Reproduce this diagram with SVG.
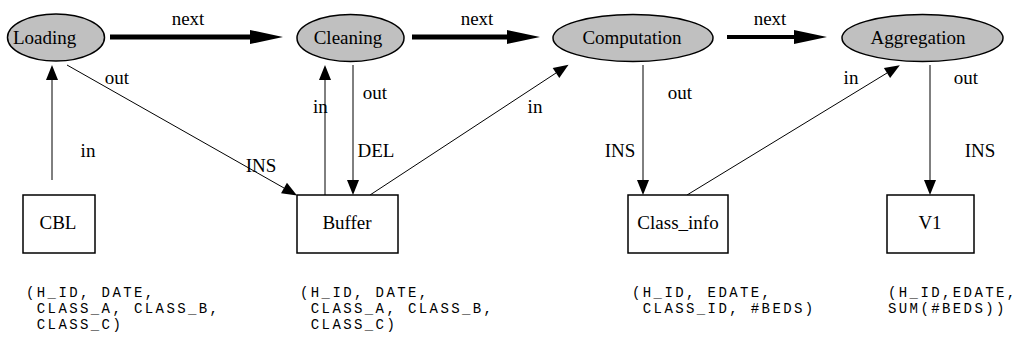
<svg xmlns="http://www.w3.org/2000/svg" width="1029" height="345" viewBox="0 0 1029 345">
<style>
.el{fill:#c0c0c0;stroke:#000;stroke-width:1.5}
.bx{fill:#fff;stroke:#000;stroke-width:1.5}
.t{font-family:"Liberation Serif","Times New Roman","DejaVu Serif",serif;font-size:19px;fill:#000}
.c{text-anchor:middle}
.m{font-family:"Liberation Mono","Courier New","DejaVu Sans Mono",monospace;font-size:14px;letter-spacing:2.4px;fill:#000;white-space:pre}
.e{stroke:#000;stroke-width:1;fill:none}
.n{stroke:#000;fill:none}
</style>
<defs>
<marker id="ah" markerUnits="userSpaceOnUse" markerWidth="15" markerHeight="12" refX="0" refY="6" orient="auto" overflow="visible">
<path d="M0,0 L15,6 L0,12 Z" fill="#000"/>
</marker>
<marker id="ahb" markerUnits="userSpaceOnUse" markerWidth="33" markerHeight="14" refX="0" refY="7" orient="auto" overflow="visible">
<path d="M0,0 L33,7 L0,14 Z" fill="#000"/>
</marker>
</defs>
<rect width="1029" height="345" fill="#fff"/>

<g id="connectors">
<line class="n" x1="110" y1="37" x2="250" y2="37" stroke-width="5" marker-end="url(#ahb)"/>
<text class="t c" x="188" y="25">next</text>
<line class="n" x1="412" y1="37" x2="507" y2="37" stroke-width="5" marker-end="url(#ahb)"/>
<text class="t c" x="477" y="25">next</text>
<line class="n" x1="727" y1="37" x2="794" y2="37" stroke-width="4" marker-end="url(#ahb)"/>
<text class="t c" x="770" y="25">next</text>

<line class="e" x1="52" y1="180" x2="52" y2="80" marker-end="url(#ah)"/>
<text class="t c" x="88" y="157">in</text>

<line class="e" x1="67" y1="65" x2="284" y2="188" marker-end="url(#ah)"/>
<text class="t c" x="117" y="84">out</text>
<text class="t c" x="261" y="172">INS</text>

<line class="e" x1="325" y1="195" x2="325" y2="80" marker-end="url(#ah)"/>
<text class="t" x="313" y="113">in</text>

<line class="e" x1="353" y1="65" x2="353" y2="180" marker-end="url(#ah)"/>
<text class="t c" x="375" y="99">out</text>
<text class="t c" x="376" y="157">DEL</text>

<line class="e" x1="370" y1="195" x2="556" y2="73" marker-end="url(#ah)"/>
<text class="t c" x="535" y="113">in</text>

<line class="e" x1="643" y1="65" x2="643" y2="180" marker-end="url(#ah)"/>
<text class="t c" x="680" y="99">out</text>
<text class="t c" x="620" y="157">INS</text>

<line class="e" x1="687" y1="195" x2="887" y2="73" marker-end="url(#ah)"/>
<text class="t c" x="851" y="84">in</text>

<line class="e" x1="930" y1="65" x2="930" y2="180" marker-end="url(#ah)"/>
<text class="t c" x="966" y="84">out</text>
<text class="t c" x="980" y="157">INS</text>
</g>

<g id="loading">
<ellipse class="el" cx="56" cy="37.5" rx="48.5" ry="23.5"/>
<text class="t" x="13" y="44">Loading</text>
</g>
<g id="cleaning">
<ellipse class="el" cx="350.5" cy="38" rx="53.5" ry="23.5"/>
<text class="t c" x="348" y="44">Cleaning</text>
</g>
<g id="computation">
<ellipse class="el" cx="633" cy="38" rx="80" ry="23.5"/>
<text class="t c" x="632" y="44">Computation</text>
</g>
<g id="aggregation">
<ellipse class="el" cx="922.5" cy="38" rx="80.5" ry="23.5"/>
<text class="t c" x="918" y="44">Aggregation</text>
</g>

<g id="cbl">
<rect class="bx" x="23" y="195" width="72" height="58"/>
<text class="t c" x="58" y="229">CBL</text>
</g>
<g id="buffer">
<rect class="bx" x="297" y="195" width="101" height="58"/>
<text class="t c" x="347" y="229">Buffer</text>
</g>
<g id="class_info">
<rect class="bx" x="628" y="195" width="100" height="58"/>
<text class="t c" x="678" y="229">Class_info</text>
</g>
<g id="v1">
<rect class="bx" x="887" y="195" width="87" height="58"/>
<text class="t c" x="930" y="229">V1</text>
</g>

<g id="schema-cbl">
<text class="m" x="26" y="296.5">(H_ID, DATE,</text>
<text class="m" x="26" y="312.5"> CLASS_A, CLASS_B,</text>
<text class="m" x="26" y="328.5"> CLASS_C)</text>
</g>
<g id="schema-buffer">
<text class="m" x="300" y="296.5">(H_ID, DATE,</text>
<text class="m" x="300" y="312.5"> CLASS_A, CLASS_B,</text>
<text class="m" x="300" y="328.5"> CLASS_C)</text>
</g>
<g id="schema-class_info">
<text class="m" x="632" y="296.5">(H_ID, EDATE,</text>
<text class="m" x="632" y="312.5"> CLASS_ID, #BEDS)</text>
</g>
<g id="schema-v1">
<text class="m" x="888" y="296.5">(H_ID,EDATE,</text>
<text class="m" x="888" y="312.5">SUM(#BEDS))</text>
</g>
</svg>
